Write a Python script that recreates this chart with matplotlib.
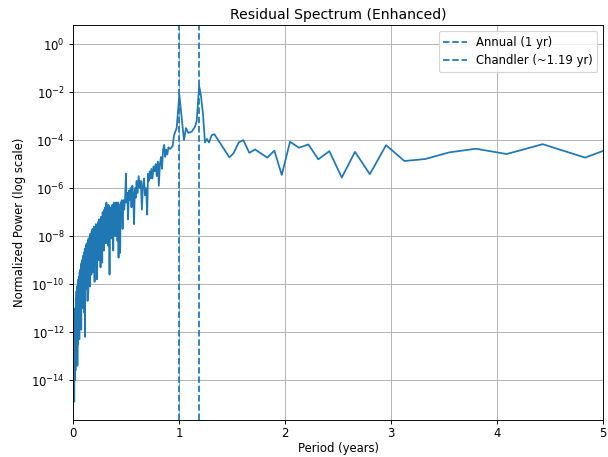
import numpy as np
import matplotlib.pyplot as plt

# Periods (years) and log10 of normalized power
period = [
    0.003, 0.006, 0.009, 0.012, 0.015, 0.018, 0.021, 0.024, 0.027, 0.030,
    0.033, 0.036, 0.039, 0.042, 0.045, 0.048, 0.051, 0.054, 0.057, 0.060,
    0.063, 0.066, 0.069, 0.072, 0.075, 0.078, 0.081, 0.084, 0.087, 0.090,
    0.093, 0.096, 0.099, 0.102, 0.105, 0.108, 0.111, 0.114, 0.117, 0.120,
    0.123, 0.126, 0.129, 0.132, 0.135, 0.138, 0.141, 0.144, 0.147, 0.150,
    0.153, 0.156, 0.159, 0.162, 0.165, 0.168, 0.171, 0.174, 0.177, 0.180,
    0.184, 0.188, 0.192, 0.196, 0.200, 0.204, 0.208, 0.212, 0.216, 0.220,
    0.224, 0.228, 0.232, 0.236, 0.240, 0.244, 0.248, 0.252, 0.256, 0.260,
    0.264, 0.268, 0.272, 0.276, 0.280, 0.284, 0.288, 0.292, 0.296, 0.300,
    0.305, 0.310, 0.315, 0.320, 0.325, 0.330, 0.335, 0.340, 0.345, 0.350,
    0.355, 0.360, 0.365, 0.370, 0.375, 0.380, 0.385, 0.390, 0.395, 0.400,
    0.405, 0.410, 0.415, 0.420, 0.425, 0.430, 0.435, 0.440, 0.445, 0.450,
    0.455, 0.460, 0.468, 0.476, 0.484, 0.492, 0.500, 0.505, 0.512, 0.520,
    0.528, 0.536, 0.544, 0.552, 0.560, 0.568, 0.576, 0.584, 0.592, 0.600,
    0.610, 0.620, 0.630, 0.640, 0.650, 0.660, 0.670, 0.680, 0.690, 0.700,
    0.708, 0.716, 0.724, 0.732, 0.740, 0.750, 0.760, 0.770, 0.780, 0.790,
    0.800, 0.810, 0.820, 0.830, 0.840, 0.850, 0.860, 0.870, 0.880, 0.890,
    0.900, 0.915, 0.940, 0.953, 0.978, 1.003, 1.047, 1.066, 1.088, 1.120,
    1.151, 1.167, 1.190, 1.205, 1.226, 1.245, 1.264, 1.283, 1.308, 1.333,
    1.475, 1.514, 1.563, 1.607, 1.663, 1.717, 1.833, 1.899, 1.969, 2.047,
    2.132, 2.220, 2.314, 2.418, 2.535, 2.660, 2.800, 2.953, 3.125, 3.320,
    3.550, 3.800, 4.090, 4.430, 4.830, 5.320,
]
log_power = [
    -13.0, -14.6, -12.2, -14.9, -11.5, -14.0, -11.0, -13.6, -10.6, -13.2,
    -10.3, -12.8, -10.1, -13.4, -10.0, -12.5, -9.8, -12.0, -9.7, -12.3,
    -9.5, -11.6, -9.4, -11.2, -9.2, -11.9, -9.1, -10.9, -9.0, -11.0,
    -8.9, -10.6, -8.8, -10.3, -8.7, -11.2, -8.6, -12.2, -8.5, -10.2,
    -8.4, -10.0, -8.3, -9.8, -8.4, -10.7, -8.2, -10.4, -8.1, -9.9,
    -8.1, -9.4, -8.0, -10.1, -7.9, -9.3, -7.9, -9.6, -7.8, -9.0,
    -7.7, -9.5, -7.8, -8.9, -7.6, -9.9, -7.7, -8.8, -7.5, -9.2,
    -7.6, -9.8, -7.5, -8.6, -7.4, -9.0, -7.3, -8.4, -7.4, -9.3,
    -7.2, -8.2, -7.3, -9.1, -7.0, -8.0, -7.1, -8.6, -6.9, -7.9,
    -6.8, -8.3, -6.6, -7.6, -6.9, -8.4, -6.7, -7.3, -9.6, -6.8,
    -7.5, -6.9, -8.1, -6.7, -7.2, -8.6, -6.6, -7.4, -6.7, -8.0,
    -6.6, -7.1, -6.6, -8.2, -6.6, -8.9, -6.7, -7.0, -8.7, -6.6,
    -7.0, -6.5, -7.7, -6.5, -6.9, -6.4, -5.4, -6.6, -6.2, -7.3,
    -6.1, -6.5, -6.0, -6.8, -5.9, -6.3, -7.5, -6.0, -6.4, -5.7,
    -6.2, -5.5, -6.0, -5.7, -6.9, -5.9, -5.6, -6.3, -6.0, -7.1,
    -5.4, -5.7, -5.3, -5.6, -5.2, -5.6, -5.1, -5.3, -5.0, -5.5,
    -4.9, -5.9, -5.0, -4.7, -5.2, -4.4, -4.2, -4.7, -4.4, -4.6,
    -4.3, -4.37, -4.25, -3.8, -3.5, -2.1, -4.0, -3.5, -3.7, -3.65,
    -3.44, -3.2, -1.75, -2.08, -2.9, -4.1, -3.95, -4.1, -3.8, -3.75,
    -4.72, -4.55, -4.10, -4.0, -4.53, -4.39, -4.73, -4.44, -5.45, -4.07,
    -4.32, -4.18, -4.80, -4.46, -5.56, -4.49, -5.42, -4.21, -4.87, -4.79,
    -4.51, -4.36, -4.58, -4.17, -4.73, -3.92,
]

annual = 1.0
chandler = 1.19

power = 10.0 ** np.array(log_power)

dpi = 84
fig = plt.figure(figsize=(608 / dpi, 457 / dpi), dpi=dpi)
ax = fig.add_axes([0.120, 0.081, 0.872, 0.864])

ax.plot(period, power, color="C0", linewidth=1.5)
ax.axvline(annual, color="C0", linestyle="--", label="Annual (1 yr)")
ax.axvline(chandler, color="C0", linestyle="--", label="Chandler (~1.19 yr)")

ax.set_yscale("log")
ax.set_xlim(0, 5)
ax.set_ylim(10 ** -15.66, 10 ** 0.79)
ax.tick_params(axis="x", pad=2.5)
ax.set_xlabel("Period (years)", labelpad=1.5)
ax.set_ylabel("Normalized Power (log scale)")
ax.set_title("Residual Spectrum (Enhanced)", pad=5)
ax.grid(True)
ax.legend(loc="upper right")

fig.savefig("out.png", dpi=dpi)
